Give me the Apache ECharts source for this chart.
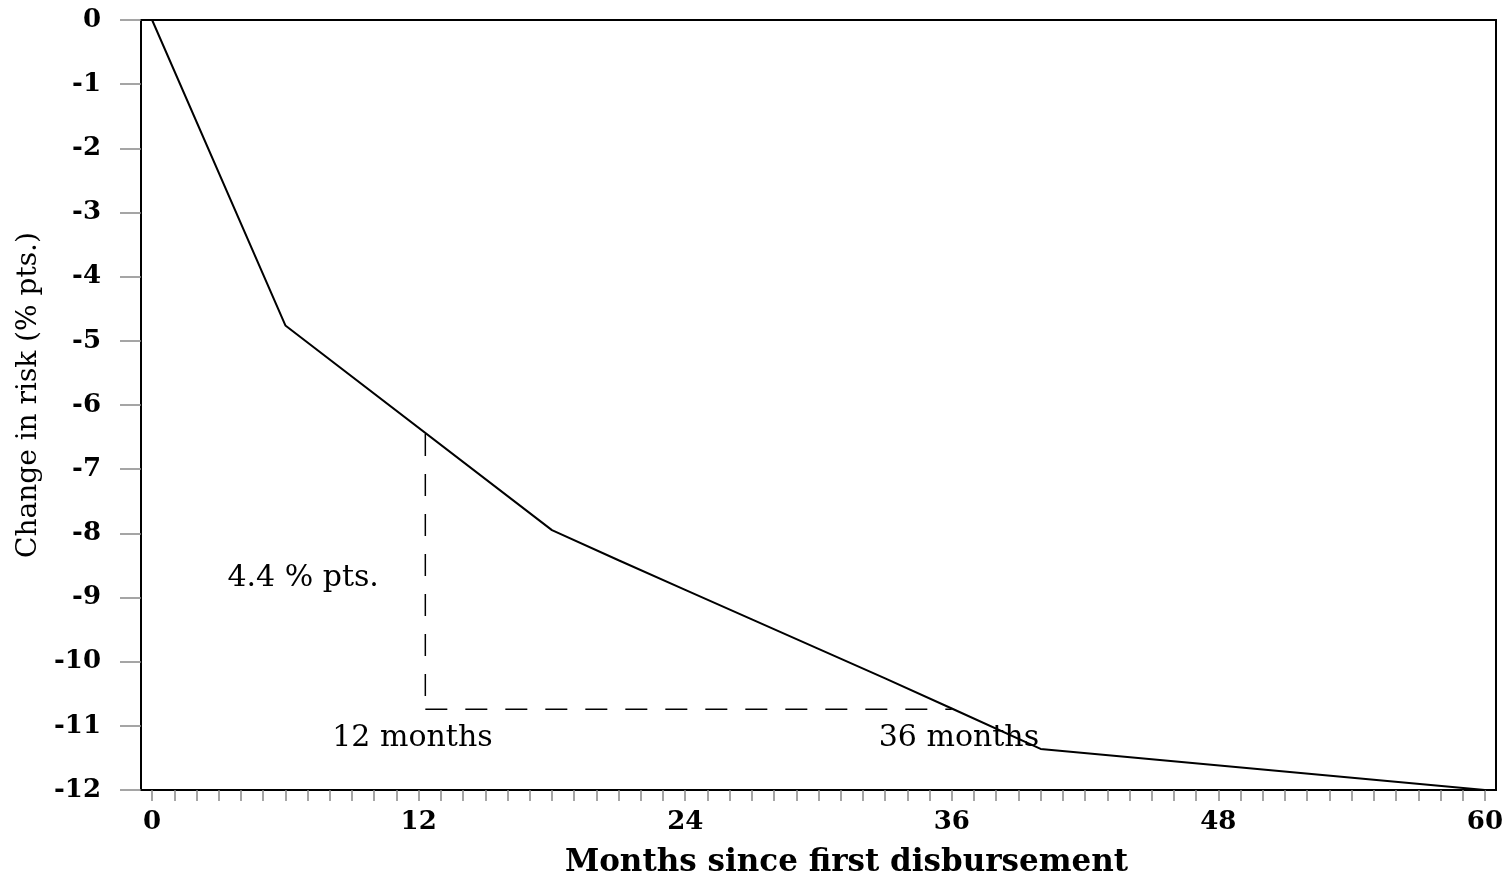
<!DOCTYPE html>
<html>
<head>
<meta charset="utf-8">
<script src="https://cdn.jsdelivr.net/npm/echarts@6/dist/echarts.min.js"></script>
<style>
html,body{margin:0;padding:0;background:#fff;}
#chart{width:1511px;height:883px;}
</style>
</head>
<body>
<div id="chart"></div>
<script>
// ---- data ----
const months = [0, 6, 18, 21, 24, 27, 30, 33, 36, 40, 60];
const riskChange = [0, -4.76, -7.95, -8.42, -8.88, -9.34, -9.80, -10.26, -10.73, -11.36, -12.0];
const xTickLabels = [0, 12, 24, 36, 48, 60];
const yTickLabels = [0, -1, -2, -3, -4, -5, -6, -7, -8, -9, -10, -11, -12];
const guideVertical = [[12.3, -6.45], [12.3, -10.74]];
const guideHorizontal = [[12.3, -10.74], [36.0, -10.74]];
const annotations = [
  [6.8, -8.70, '4.4 % pts.'],
  [11.72, -11.2, '12 months'],
  [36.32, -11.2, '36 months']
];

const minorTicks = [];
for (let m = 0; m <= 60; m++) minorTicks.push(m);

const chart = echarts.init(document.getElementById('chart'), null, {renderer: 'canvas'});
const serif = 'DejaVu Serif';

chart.setOption({
  animation: false,
  backgroundColor: '#fff',
  grid: {
    left: 141, top: 20, right: 15, bottom: 91,
    show: true, borderColor: '#000', borderWidth: 2, backgroundColor: 'transparent'
  },
  xAxis: {
    type: 'value', min: -0.5, max: 60.5,
    name: 'Months since first disbursement',
    nameLocation: 'middle', nameGap: 57,
    nameTextStyle: {fontFamily: serif, fontWeight: 'bold', fontSize: 31, color: '#000', padding: [0, 0, 0, 56]},
    axisLine: {show: true, onZero: false, lineStyle: {color: '#000', width: 2}},
    axisTick: {show: true, length: 11, lineStyle: {color: '#888', width: 1.5}, customValues: minorTicks},
    axisLabel: {
      show: true, margin: 19, customValues: xTickLabels,
      fontFamily: serif, fontWeight: 'bold', fontSize: 26, color: '#000'
    },
    splitLine: {show: false}
  },
  yAxis: {
    type: 'value', min: -12, max: 0, interval: 1,
    name: 'Change in risk (% pts.)',
    nameLocation: 'middle', nameGap: 96,
    nameTextStyle: {fontFamily: serif, fontSize: 28, color: '#000', padding: [0, 0, 0, 20]},
    axisLine: {show: true, onZero: false, lineStyle: {color: '#000', width: 2}},
    axisTick: {show: true, length: 21, lineStyle: {color: '#888', width: 1.5}, customValues: yTickLabels},
    axisLabel: {
      show: true, margin: 40, customValues: yTickLabels,
      fontFamily: serif, fontWeight: 'bold', fontSize: 26, color: '#000'
    },
    splitLine: {show: false}
  },
  series: [
    {
      type: 'line',
      data: months.map((m, i) => [m, riskChange[i]]),
      showSymbol: false,
      lineStyle: {color: '#000', width: 2},
      z: 5
    },
    {
      type: 'line',
      data: guideVertical,
      showSymbol: false,
      lineStyle: {color: '#000', width: 1.5, type: [22, 18]},
      z: 4
    },
    {
      type: 'line',
      data: guideHorizontal,
      showSymbol: false,
      lineStyle: {color: '#000', width: 1.5, type: [22, 18]},
      z: 4
    },
    {
      type: 'scatter',
      data: annotations.map(a => ({value: [a[0], a[1]], name: a[2]})),
      symbolSize: 0,
      itemStyle: {opacity: 1},
      label: {
        show: true, position: 'inside',
        formatter: p => p.name,
        fontFamily: serif, fontSize: 30, color: '#000', opacity: 1
      },
      z: 6
    }
  ]
});
</script>
</body>
</html>
